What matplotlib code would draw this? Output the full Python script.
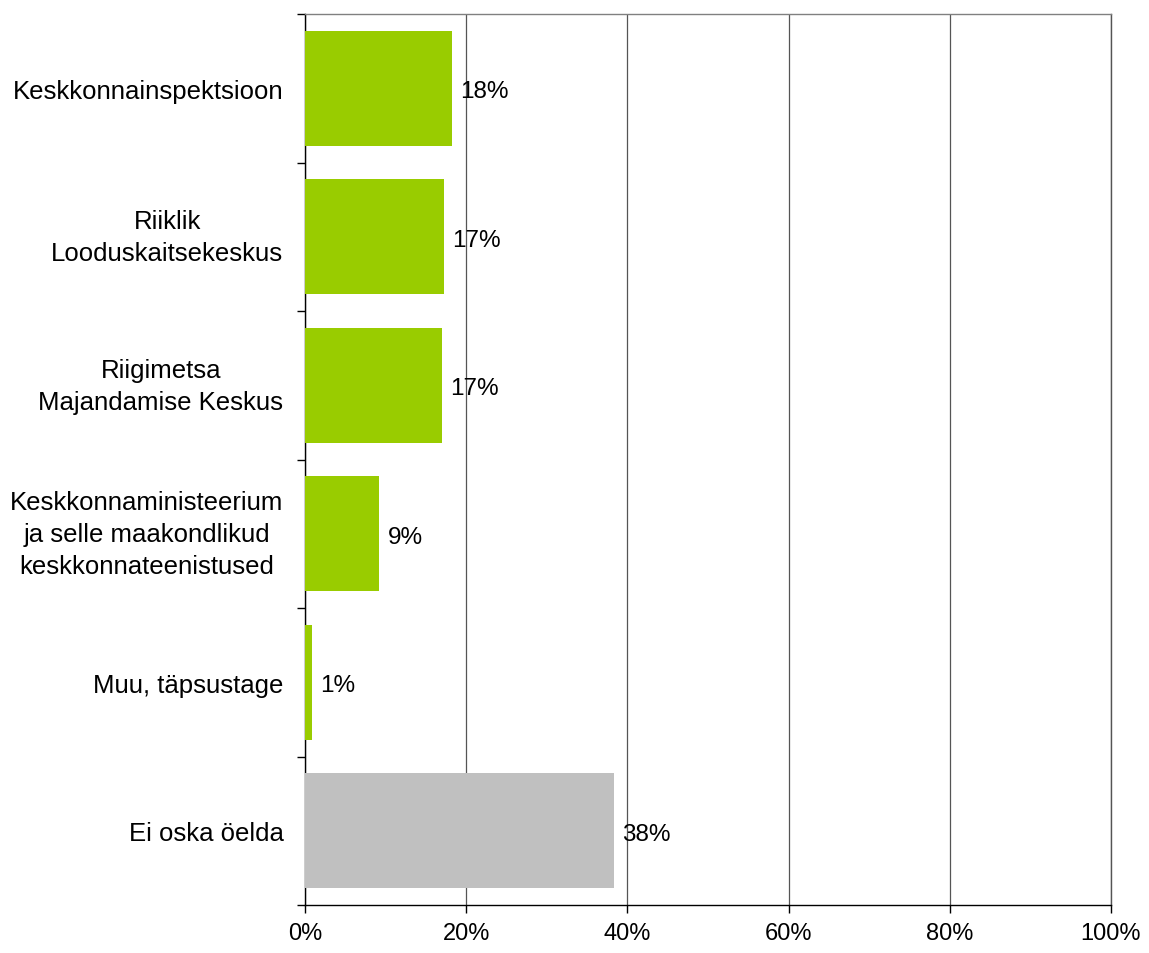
import matplotlib
matplotlib.use("Agg")
import matplotlib.pyplot as plt
import matplotlib.transforms as mtransforms
import numpy as np
from matplotlib.ticker import FixedLocator, FuncFormatter

categories = [
    "Keskkonnainspektsioon",
    "Riiklik\nLooduskaitsekeskus",
    "Riigimetsa\nMajandamise Keskus",
    "Keskkonnaministeerium\nja selle maakondlikud\nkeskkonnateenistused",
    "Muu, täpsustage",
    "Ei oska öelda",
]
values = [18.2, 17.2, 17.0, 9.2, 0.9, 38.3]
labels = ["18%", "17%", "17%", "9%", "1%", "38%"]
colors = ["#99CC00", "#99CC00", "#99CC00", "#99CC00", "#99CC00", "#C0C0C0"]
xticks = [0, 20, 40, 60, 80, 100]

plt.rcParams['font.family'] = ['Liberation Sans', 'DejaVu Sans']

fig = plt.figure(figsize=(11.49, 9.54), dpi=100)
ax = fig.add_axes([305/1149, 48/954, 806/1149, 891/954])

y = np.arange(len(categories))
ax.barh(y, values, height=0.775, color=colors, zorder=3)
ax.set_xlim(0, 100)
ax.set_ylim(len(categories) - 0.5, -0.5)

for yi, v, lab in zip(y, values, labels):
    ax.annotate(lab, (v, yi), xytext=(6, -2), textcoords='offset points',
                va='center', ha='left', fontsize=17.5, color='black', zorder=4)

ax.set_xticks(xticks)
ax.xaxis.set_major_formatter(FuncFormatter(lambda v, p: f"{int(v)}%"))
ax.tick_params(axis='x', direction='out', length=6, width=1, color='black',
               pad=6, labelsize=17)
ax.grid(axis='x', color='#555555', linewidth=0.9, zorder=1)

ax.set_yticks(y)
ax.set_yticklabels(categories, multialignment='center', linespacing=1.42)
ax.yaxis.set_minor_locator(FixedLocator(np.arange(-0.5, len(categories), 1.0)))
ax.tick_params(axis='y', which='major', length=0, labelsize=18.5, pad=15.5)
ax.tick_params(axis='y', which='minor', length=6, width=1, color='black')

shift_up = mtransforms.ScaledTranslation(0, 6/100, fig.dpi_scale_trans)
for t in ax.get_yticklabels():
    if "\n" in t.get_text():
        t.set_transform(t.get_transform() + shift_up)

ax.spines['left'].set_color('black')
ax.spines['bottom'].set_color('black')
ax.spines['top'].set_color('#808080')
ax.spines['right'].set_color('#555555')
for s in ax.spines.values():
    s.set_linewidth(1)

fig.savefig("out.png", dpi=100)
